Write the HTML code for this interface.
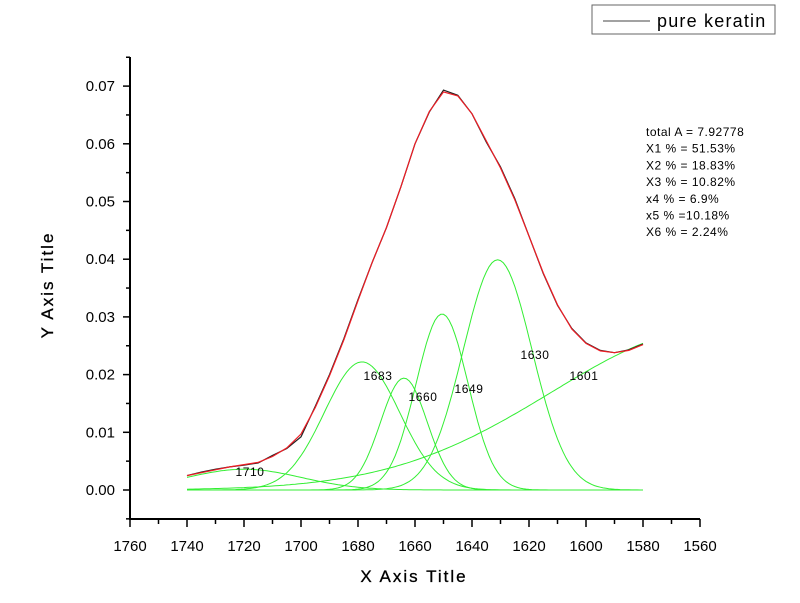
<!DOCTYPE html>
<html><head><meta charset="utf-8"><style>
body{margin:0;background:#fff;}
svg{display:block;font-family:"Liberation Sans",sans-serif;}
</style></head><body>
<svg id="chart" width="800" height="603"></svg>
<script>
const xTicks=[1760,1740,1720,1700,1680,1660,1640,1620,1600,1580,1560];
const yTicks=[0.00,0.01,0.02,0.03,0.04,0.05,0.06,0.07];
const xData=[1740,1735,1730,1725,1720,1715,1710,1705,1700,1695,1690,1685,1680,1675,1670,1665,1660,1655,1650,1645,1640,1635,1630,1625,1620,1615,1610,1605,1600,1595,1590,1585,1580];
const observed=[.0025,.0031,.0036,.0040,.0043,.0047,.0060,.0072,.0092,.0145,.0200,.0262,.0330,.0395,.0455,.0525,.0600,.0655,.0693,.0684,.0652,.0603,.0560,.0505,.0440,.0375,.0320,.0280,.0255,.0242,.0238,.0243,.0253];
const fitted=[.0025,.0030,.0035,.0040,.0044,.0048,.0058,.0073,.0097,.0143,.0198,.0260,.0328,.0395,.0455,.0525,.0600,.0656,.0690,.0683,.0652,.0605,.0558,.0503,.0440,.0376,.0321,.0279,.0254,.0241,.0238,.0242,.0252];
const peakLabels=["1710","1683","1660","1649","1630","1601"];
const peakCenters=[1720,1678.6,1663.9,1650.5,1631,1555];
const peakAmps=[0.0036,0.0222,0.0194,0.0305,0.0399,0.028];
const peakSigmas=[20,13.2,8.2,9.1,12.1,57];
const statLines=["total A  = 7.92778","X1 % = 51.53%","X2 % = 18.83%","X3 % = 10.82%","x4 % = 6.9%","x5 % =10.18%","X6 % = 2.24%"];

const NS="http://www.w3.org/2000/svg";
const svg=document.getElementById('chart');
const X=v=>130+(1760-v)*2.85;
const Y=v=>490-v*5770;
function mk(tag,attrs,parent){const e=document.createElementNS(NS,tag);for(const k in attrs)e.setAttribute(k,attrs[k]);(parent||svg).appendChild(e);return e;}

let a=mk('path',{d:'M130,57 L130,519 L700,519',fill:'none',stroke:'#000','stroke-width':2});


for(let v=-0.005;v<=0.0751;v+=0.005){
  const major=Math.abs(Math.round(v*1000)%10)<0.5;
  const t=mk('line',{x1:130,x2:major?123:126,y1:Y(v),y2:Y(v),stroke:'#000','stroke-width':1.5});
  
  
}
yTicks.forEach(v=>{
  const t=mk('text',{x:115,y:Y(v)+5,'text-anchor':'end','font-size':15});
  t.textContent=v.toFixed(2);
  
  
});
for(let v=1760;v>=1560;v-=10){
  const major=v%20===0;
  const t=mk('line',{x1:X(v),x2:X(v),y1:519,y2:major?527:524,stroke:'#000','stroke-width':1.5});
  
  
}
xTicks.forEach(v=>{
  const t=mk('text',{x:X(v),y:551,'text-anchor':'middle','font-size':15});
  t.textContent=v;
  
  
});
let xt=mk('text',{x:414,y:582,'text-anchor':'middle','font-size':17,'letter-spacing':2,stroke:'#000','stroke-width':0.3});
xt.textContent='X Axis Title';


let yt=mk('text',{x:0,y:0,'text-anchor':'middle','font-size':17,'letter-spacing':2,stroke:'#000','stroke-width':0.3,transform:'translate(53,285) rotate(-90)'});
yt.textContent='Y Axis Title';



peakCenters.forEach((c,i)=>{
  let d='';
  for(let v=1740;v>=1580;v-=1){
    const y=peakAmps[i]*Math.exp(-((v-c)**2)/(2*peakSigmas[i]**2));
    d+=(d?'L':'M')+X(v).toFixed(1)+','+Y(y).toFixed(1);
  }
  const p=mk('path',{d:d,fill:'none',stroke:'#33ee33','stroke-width':1});
  
  
});
const labelPos=[[250,476],[378,380],[423,401],[469,393],[535,359],[584,380]];
peakLabels.forEach((l,i)=>{
  const t=mk('text',{x:labelPos[i][0],y:labelPos[i][1],'text-anchor':'middle','font-size':12,'letter-spacing':0.6});
  t.textContent=l;
  
  
});
const line=arr=>arr.map((v,i)=>(i?'L':'M')+X(xData[i]).toFixed(1)+','+Y(v).toFixed(1)).join('');
let ob=mk('path',{d:line(observed),fill:'none',stroke:'#222','stroke-width':1.2});


let ft=mk('path',{d:line(fitted),fill:'none',stroke:'#ee1c24','stroke-width':1.2});



statLines.forEach((s,i)=>{
  const t=mk('text',{x:646,y:136+i*16.7,'font-size':12,'letter-spacing':0.5});
  t.textContent=s;
  
  
});
const lg=mk('g',{});


mk('rect',{x:592,y:5,width:183,height:29,fill:'#fff',stroke:'#666','stroke-width':1},lg);
mk('line',{x1:603,x2:650,y1:21,y2:21,stroke:'#444','stroke-width':1},lg);
const lt=mk('text',{x:657,y:27,'font-size':18,'letter-spacing':1.2},lg);
lt.textContent='pure keratin';


</script>
</body></html>
